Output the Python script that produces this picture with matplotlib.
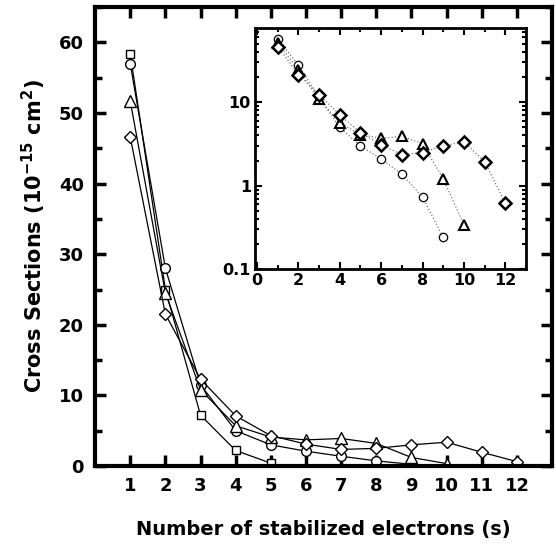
import numpy as np
import matplotlib
matplotlib.use('Agg')
import matplotlib.pyplot as plt
from matplotlib.ticker import MultipleLocator, LogLocator, FixedLocator, NullFormatter, FuncFormatter

plt.rcParams['font.family'] = ['DejaVu Sans']
plt.rcParams['font.weight'] = 'bold'
plt.rcParams['mathtext.fontset'] = 'custom'
plt.rcParams['mathtext.rm'] = 'DejaVu Sans:bold'
plt.rcParams['mathtext.default'] = 'rm'

# cross sections vs number of stabilized electrons
s_sq = [1, 2, 3, 4, 5]
cs_sq = [58.4, 25.0, 7.2, 2.2, 0.4]

s_ci = [1, 2, 3, 4, 5, 6, 7, 8, 9]
cs_ci = [57.0, 28.0, 11.5, 5.0, 3.0, 2.1, 1.38, 0.73, 0.24]

s_tr = [1, 2, 3, 4, 5, 6, 7, 8, 9, 10]
cs_tr = [51.7, 24.5, 10.8, 5.7, 4.1, 3.7, 3.9, 3.2, 1.21, 0.34]

s_di = [1, 2, 3, 4, 5, 6, 7, 8, 9, 10, 11, 12]
cs_di = [46.6, 21.5, 12.3, 7.1, 4.3, 3.1, 2.35, 2.5, 3.0, 3.37, 1.95, 0.62]

xticks_main = list(range(1, 13))
yticks_main = [0, 10, 20, 30, 40, 50, 60]
xticks_inset = [0, 2, 4, 6, 8, 10, 12]

fig = plt.figure(figsize=(5.56, 5.46), dpi=100)
ax = fig.add_axes([0.171, 0.1465, 0.822, 0.8405])

mk = dict(color='black', lw=0.9, mfc='white', mec='black', mew=1.0)
ax.plot(s_sq, cs_sq, marker='s', ms=6, **mk)
ax.plot(s_ci, cs_ci, marker='o', ms=7, **mk)
ax.plot(s_tr, cs_tr, marker='^', ms=8, **mk)
ax.plot(s_di, cs_di, marker='D', ms=6.5, **mk)

ax.set_xlim(0, 13)
ax.set_ylim(0, 65)
ax.set_xticks(xticks_main)
ax.set_yticks(yticks_main)
ax.yaxis.set_minor_locator(MultipleLocator(5))
ax.tick_params(which='both', direction='in', top=True, right=True, width=2.5)
ax.tick_params(which='major', length=8, labelsize=13, pad=8)
ax.tick_params(which='minor', length=5)
for sp in ax.spines.values():
    sp.set_linewidth(3)
ax.set_xlabel('Number of stabilized electrons (s)', fontsize=14, fontweight='bold', labelpad=18)
ax.set_ylabel('Cross Sections (10$^{-15}$ cm$^{2}$)', fontsize=15, fontweight='bold', labelpad=8)

# inset on log scale
ins = fig.add_axes([0.4586, 0.507, 0.4874, 0.442])
mi = dict(color='0.35', lw=0.8, ls=(0, (1, 2)), mfc='white', mec='black')
ins.plot(s_ci, cs_ci, marker='o', ms=6, mew=0.9, **mi)
ins.plot(s_tr, cs_tr, marker='^', ms=7, mew=1.5, **mi)
ins.plot(s_di, cs_di, marker='D', ms=6, mew=1.8, **mi)
ins.set_yscale('log')
ins.set_xlim(-0.1, 13)
ins.set_ylim(0.1, 78)
ins.set_xticks(xticks_inset)
ins.xaxis.set_minor_locator(MultipleLocator(1))
ins.yaxis.set_major_locator(FixedLocator([0.1, 1, 10]))
ins.yaxis.set_major_formatter(FuncFormatter(lambda v, p: f'{v:g}'))
ins.yaxis.set_minor_locator(LogLocator(base=10, subs=np.arange(2, 10)))
ins.yaxis.set_minor_formatter(NullFormatter())
ins.tick_params(which='both', direction='in', top=True, right=True, width=1.5)
ins.tick_params(which='major', length=5, labelsize=11.5, pad=3)
ins.tick_params(which='minor', length=3)
for sp in ins.spines.values():
    sp.set_linewidth(2)

fig.savefig('out.png', dpi=100)
